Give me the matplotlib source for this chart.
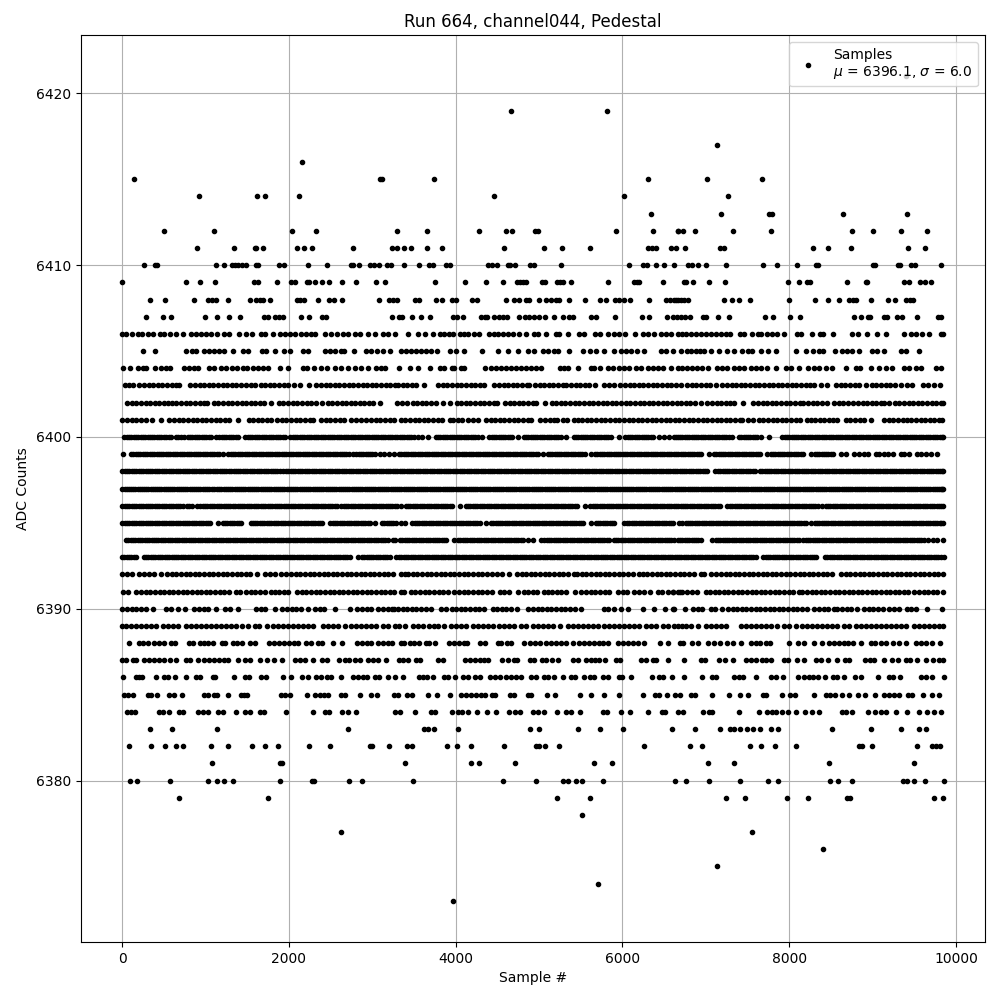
import numpy as np
import matplotlib
matplotlib.use('Agg')
import matplotlib.pyplot as plt

# sample numbers, one list per ADC level
s6421 = [9401]
s6419 = [4667, 5819]
s6417 = [7133]
s6416 = [2152]
s6415 = [148, 3088, 3116, 3743, 6311, 7013, 7673]
s6414 = [928, 1612, 1708, 2116, 4463, 6023, 7265]
s6413 = [6347, 7181, 7757, 7793, 8645, 9413]
s6412 = [508, 1108, 2032, 2320, 3299, 3659, 4283, 4607, 4679, 4955, 4983, 5927, 6371, 6671, 6665, 6725, 6869, 7325,
         7781, 8753, 9005, 9341, 9653]
s6411 = [904, 1336, 1590, 1604, 1684, 2092, 2176, 2272, 2764, 3232, 3292, 3383, 3467, 3659, 3839, 4583, 5063, 5279,
         5615, 6311, 6359, 6407, 6587, 6647, 6749, 7169, 7217, 8285, 8465, 8741, 9425, 9629]
s6410 = [268, 396, 416, 1132, 1228, 1316, 1348, 1388, 1436, 1484, 1604, 1628, 1876, 1936, 2224, 2452, 2740, 2764,
         2836, 2968, 3016, 3076, 3180, 3220, 3383, 3563, 3683, 3731, 3887, 3935, 4383, 4439, 4499, 4631, 4655, 4715,
         4895, 4935, 5267, 6083, 6251, 6299, 6407, 6503, 6623, 6785, 6833, 6905, 7001, 7241, 7685, 7853, 8097, 8321,
         8345, 9005, 9029, 9305, 9329, 9461, 9509, 9817]
s6409 = [4, 772, 940, 1120, 1576, 1624, 1852, 2020, 2068, 2212, 2236, 2308, 2392, 2476, 2632, 2800, 3040, 3148, 3755,
         4115, 4367, 4571, 4739, 4775, 4811, 4847, 5039, 5075, 5219, 5255, 5291, 5387, 5831, 6143, 6175, 6203, 6491,
         6737, 6761, 6845, 7037, 7229, 7985, 8117, 8213, 8249, 8693, 8921, 8937, 9377, 9437, 9569, 9629, 9701]
s6408 = [340, 520, 868, 1036, 1084, 1132, 1276, 1528, 1600, 1648, 1684, 1768, 2092, 2128, 2176, 2344, 2476, 2536,
         2632, 3076, 3196, 3244, 3292, 3515, 3563, 3767, 3839, 3959, 4007, 4199, 4259, 4607, 4703, 4763, 4847, 4883,
         5003, 5087, 5147, 5203, 5243, 5363, 5555, 5735, 5807, 5915, 5963, 6023, 6095, 6323, 6527, 6575, 6623, 6671,
         6637, 6697, 6737, 6785, 7217, 7313, 7397, 7529, 7997, 8309, 8465, 8597, 8717, 8769, 8801, 8981, 9185, 9269,
         9401, 9449, 9485]
s6407 = [292, 496, 592, 1000, 1144, 1288, 1408, 1696, 1744, 1828, 1876, 1924, 2140, 2236, 2392, 2440, 3232, 3316,
         3359, 3479, 3583, 3695, 3971, 4019, 4091, 4307, 4347, 4379, 4463, 4523, 4571, 4619, 4763, 4835, 4883, 4943,
         5003, 5075, 5183, 5291, 5363, 5403, 5627, 5687, 5915, 6239, 6323, 6539, 6611, 6659, 6705, 6745, 6809, 6965,
         7001, 7145, 7277, 7709, 7805, 8009, 8129, 8777, 8861, 8945, 8969, 9137, 9177, 9293, 9353, 9533, 9785, 9825]
s6406 = [4, 52, 124, 188, 236, 308, 368, 452, 508, 580, 648, 728, 828, 888, 948, 1008, 1068, 1140, 1228, 1288, 1396,
         1480, 1556, 1660, 1716, 1804, 1888, 1948, 2008, 2068, 2140, 2208, 2268, 2316, 2428, 2508, 2572, 2648, 2708,
         2788, 2848, 2948, 3028, 3128, 3188, 3276, 3431, 3551, 3631, 3731, 3815, 3863, 3923, 3971, 4055, 4103, 4151,
         4215, 4283, 4403, 4463, 4503, 4563, 4623, 4683, 4763, 4847, 4943, 4983, 5087, 5203, 5243, 5343, 5483, 5543,
         5671, 5735, 5831, 5903, 5963, 6035, 6155, 6243, 6303, 6383, 6463, 6523, 6583, 6663, 6717, 6765, 6825, 6877,
         6937, 6997, 7057, 7117, 7177, 7237, 7289, 7409, 7457, 7557, 7625, 7665, 7737, 7797, 7857, 7937, 8097, 8145,
         8273, 8369, 8409, 8525, 8757, 8825, 8933, 9057, 9161, 9377, 9457, 9517, 9597, 9677, 9817, 9850]
s6405 = [256, 396, 772, 844, 892, 988, 1048, 1108, 1168, 1228, 1324, 1444, 1504, 1676, 1720, 1828, 1936, 2008, 2164,
         2228, 2428, 2488, 2548, 2628, 2656, 2776, 2920, 2988, 3052, 3128, 3208, 3340, 3403, 3463, 3523, 3583, 3643,
         3703, 3775, 3935, 4003, 4095, 4315, 4503, 4631, 4751, 4871, 4943, 5051, 5111, 5183, 5223, 5363, 5531, 5615,
         5683, 5783, 5903, 5983, 6043, 6103, 6171, 6263, 6463, 6523, 6603, 6705, 6777, 6825, 6877, 6929, 6977, 7065,
         7161, 7257, 7337, 7437, 7505, 7557, 7657, 7745, 7837, 8081, 8201, 8289, 8357, 8409, 8549, 8633, 8697, 8757,
         8837, 8997, 9057, 9137, 9345, 9397, 9557]
s6404 = [16, 100, 188, 248, 284, 400, 468, 528, 580, 748, 808, 868, 916, 1048, 1108, 1188, 1248, 1316, 1380, 1448,
         1500, 1568, 1628, 1688, 1748, 1888, 1988, 2168, 2216, 2296, 2380, 2460, 2548, 2620, 2708, 2788, 2868, 2948,
         3048, 3108, 3156, 3316, 3455, 3551, 3695, 3815, 3863, 3951, 3983, 4063, 4103, 4355, 4423, 4483, 4543, 4603,
         4663, 4723, 4783, 4843, 4903, 4963, 5023, 5255, 5303, 5351, 5471, 5623, 5663, 5735, 5823, 5883, 5963, 6023,
         6083, 6163, 6223, 6303, 6363, 6423, 6483, 6583, 6663, 6717, 6777, 6837, 6897, 6957, 7025, 7137, 7197, 7257,
         7337, 7397, 7457, 7537, 7597, 7657, 7737, 7837, 7957, 8017, 8117, 8225, 8297, 8357, 8437, 8517, 8677, 8797,
         8845, 8977, 9077, 9157, 9237, 9377, 9437, 9517, 9577, 9757, 9817]
s6403 = [36, 88, 128, 208, 262, 318, 371, 430, 482, 540, 596, 650, 688, 820, 874, 931, 985, 1042, 1096, 1153, 1207,
         1262, 1318, 1371, 1428, 1483, 1540, 1596, 1660, 1714, 1770, 1826, 1880, 1937, 1992, 2060, 2128, 2236, 2328,
         2383, 2440, 2494, 2551, 2605, 2662, 2716, 2773, 2827, 2884, 2938, 2995, 3049, 3106, 3160, 3217, 3271, 3310,
         3365, 3421, 3476, 3523, 3615, 3791, 3846, 3902, 3957, 4013, 4068, 4124, 4179, 4235, 4290, 4343, 4463, 4518,
         4574, 4629, 4685, 4740, 4796, 4851, 4883, 4951, 5006, 5062, 5117, 5173, 5228, 5284, 5323, 5383, 5438, 5494,
         5549, 5605, 5671, 5783, 5839, 5895, 5975, 6030, 6086, 6141, 6197, 6252, 6308, 6363, 6419, 6474, 6530, 6585,
         6640, 6697, 6777, 6832, 6888, 6943, 6999, 7054, 7117, 7197, 7252, 7308, 7363, 7419, 7474, 7530, 7585, 7641,
         7696, 7752, 7807, 7863, 7918, 7974, 8029, 8085, 8140, 8196, 8251, 8297, 8385, 8457, 8557, 8617, 8672, 8728,
         8783, 8839, 8917, 8989, 9044, 9100, 9155, 9211, 9266, 9337, 9409, 9477, 9605, 9660, 9737, 9809]
s6402 = [60, 115, 171, 226, 282, 337, 393, 448, 504, 548, 596, 651, 707, 762, 818, 873, 929, 984, 1020, 1100, 1155,
         1211, 1266, 1322, 1377, 1433, 1488, 1544, 1599, 1655, 1700, 1780, 1880, 1935, 1991, 2046, 2102, 2157, 2213,
         2268, 2324, 2396, 2468, 2523, 2579, 2634, 2690, 2745, 2788, 2848, 2903, 2959, 3014, 3088, 3300, 3355, 3411,
         3483, 3538, 3594, 3649, 3705, 3760, 3843, 3935, 4011, 4066, 4122, 4177, 4233, 4288, 4344, 4399, 4455, 4495,
         4591, 4646, 4702, 4757, 4813, 4868, 4924, 4963, 5071, 5151, 5206, 5262, 5317, 5373, 5428, 5484, 5539, 5595,
         5650, 5706, 5761, 5817, 5872, 5928, 5983, 6039, 6094, 6150, 6205, 6261, 6316, 6372, 6427, 6483, 6538, 6594,
         6649, 6705, 6760, 6816, 6871, 6945, 7017, 7072, 7128, 7183, 7239, 7294, 7337, 7449, 7569, 7624, 7680, 7735,
         7791, 7846, 7902, 7957, 8013, 8068, 8124, 8169, 8225, 8280, 8336, 8391, 8457, 8537, 8592, 8648, 8705, 8769,
         8824, 8880, 8935, 8991, 9046, 9102, 9137, 9193, 9265, 9320, 9376, 9431, 9487, 9542, 9598, 9653, 9709, 9764,
         9820, 9850]
s6401 = [4, 59, 115, 170, 226, 281, 356, 472, 568, 623, 679, 734, 790, 845, 901, 956, 1012, 1067, 1123, 1178, 1234,
         1288, 1384, 1516, 1571, 1627, 1682, 1738, 1780, 1856, 1916, 1971, 2027, 2082, 2138, 2193, 2249, 2288, 2388,
         2443, 2499, 2554, 2610, 2665, 2748, 2808, 2868, 2928, 2983, 3039, 3094, 3148, 3208, 3263, 3340, 3396, 3451,
         3507, 3562, 3618, 3673, 3729, 3784, 3840, 3935, 3971, 4026, 4082, 4151, 4203, 4271, 4363, 4418, 4474, 4529,
         4585, 4640, 4696, 4751, 4807, 4862, 4903, 5015, 5070, 5126, 5181, 5215, 5283, 5338, 5423, 5463, 5518, 5574,
         5629, 5685, 5740, 5796, 5851, 5907, 5962, 6018, 6073, 6129, 6184, 6240, 6295, 6351, 6406, 6462, 6517, 6573,
         6628, 6684, 6739, 6795, 6850, 6906, 6961, 7017, 7072, 7128, 7183, 7239, 7294, 7350, 7405, 7437, 7505, 7560,
         7637, 7689, 7744, 7800, 7855, 7911, 7966, 8022, 8077, 8133, 8217, 8257, 8312, 8368, 8423, 8479, 8529, 8577,
         8677, 8732, 8788, 8843, 8899, 8977, 9137, 9192, 9248, 9303, 9359, 9409, 9465, 9520, 9576, 9631, 9687, 9742,
         9798, 9837]
s6400 = [28, 83, 139, 194, 250, 305, 361, 416, 472, 527, 588, 648, 703, 748, 788, 843, 899, 954, 1010, 1065, 1128,
         1168, 1223, 1279, 1334, 1390, 1468, 1508, 1563, 1619, 1674, 1730, 1785, 1841, 1896, 1952, 2008, 2048, 2103,
         2159, 2214, 2270, 2325, 2381, 2436, 2492, 2547, 2603, 2658, 2714, 2769, 2825, 2880, 2936, 2991, 3047, 3102,
         3158, 3213, 3269, 3330, 3385, 3441, 3496, 3551, 3591, 3663, 3763, 3818, 3874, 3929, 3985, 4040, 4096, 4151,
         4207, 4262, 4311, 4403, 4458, 4514, 4569, 4625, 4680, 4751, 4815, 4870, 4926, 4981, 5037, 5092, 5148, 5203,
         5259, 5323, 5415, 5470, 5526, 5581, 5637, 5692, 5748, 5803, 5859, 5963, 6035, 6090, 6146, 6201, 6257, 6312,
         6368, 6443, 6503, 6563, 6618, 6663, 6718, 6774, 6829, 6885, 6940, 6996, 7051, 7107, 7162, 7218, 7273, 7317,
         7397, 7452, 7508, 7563, 7619, 7665, 7761, 7917, 7972, 8028, 8083, 8139, 8194, 8250, 8305, 8361, 8416, 8472,
         8527, 8583, 8638, 8694, 8749, 8805, 8860, 8916, 8971, 9027, 9082, 9138, 9193, 9249, 9304, 9360, 9415, 9471,
         9526, 9582, 9637, 9693, 9748, 9804, 9850]
s6399 = [16, 108, 163, 219, 274, 330, 385, 441, 496, 552, 607, 663, 718, 774, 829, 885, 940, 996, 1051, 1107, 1162,
         1208, 1276, 1331, 1387, 1442, 1498, 1553, 1609, 1664, 1720, 1775, 1831, 1886, 1942, 1997, 2053, 2108, 2164,
         2219, 2275, 2330, 2386, 2441, 2497, 2552, 2608, 2663, 2719, 2768, 2808, 2863, 2919, 2974, 3030, 3088, 3140,
         3195, 3255, 3323, 3378, 3434, 3489, 3545, 3600, 3656, 3711, 3767, 3822, 3878, 3933, 3989, 4044, 4100, 4155,
         4211, 4266, 4322, 4377, 4433, 4488, 4544, 4599, 4655, 4710, 4766, 4821, 4877, 4932, 4988, 5043, 5103, 5158,
         5214, 5269, 5325, 5380, 5436, 5491, 5547, 5623, 5671, 5726, 5782, 5837, 5893, 5948, 6004, 6059, 6115, 6170,
         6226, 6281, 6337, 6392, 6448, 6503, 6559, 6614, 6670, 6725, 6781, 6836, 6892, 6947, 7037, 7097, 7152, 7208,
         7263, 7319, 7374, 7430, 7485, 7541, 7596, 7652, 7737, 7777, 7832, 7888, 7943, 7999, 8054, 8110, 8165, 8257,
         8305, 8360, 8416, 8471, 8527, 8617, 8681, 8777, 8837, 8892, 8948, 9037, 9077, 9132, 9188, 9243, 9337, 9377,
         9432, 9529, 9585, 9640, 9696, 9777]
s6398 = [4, 59, 115, 170, 226, 281, 337, 392, 448, 503, 559, 614, 670, 725, 781, 836, 892, 947, 1003, 1058, 1114,
         1169, 1225, 1280, 1336, 1391, 1447, 1502, 1558, 1613, 1669, 1724, 1780, 1835, 1891, 1928, 1968, 2023, 2079,
         2134, 2190, 2245, 2301, 2356, 2412, 2467, 2523, 2578, 2634, 2689, 2745, 2800, 2856, 2911, 2967, 3022, 3078,
         3133, 3189, 3244, 3300, 3355, 3411, 3466, 3522, 3577, 3633, 3688, 3744, 3799, 3855, 3910, 3966, 4021, 4077,
         4132, 4188, 4243, 4299, 4354, 4410, 4465, 4521, 4576, 4632, 4687, 4743, 4798, 4854, 4909, 4965, 5020, 5076,
         5131, 5187, 5242, 5298, 5353, 5409, 5464, 5520, 5575, 5631, 5686, 5742, 5797, 5853, 5908, 5964, 6019, 6075,
         6130, 6186, 6241, 6297, 6352, 6408, 6463, 6519, 6574, 6630, 6685, 6741, 6796, 6852, 6907, 6963, 7018, 7105,
         7145, 7200, 7256, 7311, 7367, 7422, 7478, 7533, 7585, 7649, 7704, 7760, 7815, 7871, 7926, 7982, 8037, 8093,
         8148, 8204, 8259, 8315, 8370, 8426, 8481, 8537, 8592, 8648, 8703, 8759, 8814, 8870, 8925, 8981, 9036, 9092,
         9147, 9203, 9258, 9314, 9369, 9425, 9480, 9536, 9591, 9647, 9702, 9758, 9813, 9850]
s6397 = [4, 56, 108, 160, 212, 264, 316, 368, 420, 472, 524, 576, 628, 680, 732, 784, 836, 888, 940, 992, 1044, 1108,
         1140, 1192, 1244, 1296, 1348, 1400, 1452, 1504, 1556, 1608, 1660, 1712, 1764, 1816, 1868, 1920, 1972, 2024,
         2076, 2128, 2180, 2232, 2284, 2336, 2388, 2440, 2492, 2544, 2596, 2648, 2700, 2752, 2804, 2856, 2908, 2960,
         3012, 3064, 3116, 3168, 3220, 3272, 3324, 3376, 3428, 3480, 3532, 3584, 3636, 3688, 3740, 3792, 3844, 3896,
         3948, 4000, 4052, 4104, 4156, 4208, 4260, 4312, 4364, 4416, 4468, 4520, 4572, 4624, 4676, 4728, 4780, 4832,
         4884, 4936, 4988, 5040, 5092, 5144, 5196, 5248, 5300, 5352, 5404, 5456, 5508, 5560, 5612, 5664, 5716, 5768,
         5820, 5872, 5924, 5976, 6028, 6080, 6132, 6184, 6236, 6288, 6340, 6392, 6444, 6496, 6548, 6600, 6652, 6704,
         6756, 6808, 6860, 6912, 6964, 7016, 7068, 7120, 7172, 7224, 7276, 7328, 7380, 7432, 7484, 7536, 7588, 7640,
         7692, 7744, 7796, 7848, 7900, 7952, 8004, 8056, 8108, 8160, 8212, 8264, 8316, 8368, 8420, 8472, 8524, 8576,
         8628, 8680, 8732, 8784, 8836, 8888, 8940, 8992, 9044, 9096, 9148, 9200, 9252, 9304, 9356, 9408, 9460, 9512,
         9564, 9616, 9668, 9720, 9772, 9824, 9850]
s6396 = [4, 59, 115, 170, 226, 281, 337, 392, 448, 503, 559, 614, 670, 728, 780, 835, 900, 940, 995, 1051, 1106,
         1162, 1217, 1273, 1328, 1384, 1439, 1495, 1550, 1606, 1661, 1717, 1772, 1828, 1883, 1939, 1994, 2050, 2105,
         2161, 2216, 2272, 2327, 2383, 2438, 2494, 2549, 2620, 2660, 2715, 2771, 2826, 2882, 2937, 2993, 3048, 3104,
         3159, 3215, 3270, 3343, 3403, 3458, 3514, 3569, 3625, 3680, 3736, 3791, 3847, 3902, 3958, 4055, 4123, 4178,
         4234, 4289, 4345, 4400, 4456, 4511, 4567, 4622, 4678, 4733, 4789, 4844, 4900, 4955, 5011, 5066, 5122, 5177,
         5233, 5288, 5344, 5399, 5455, 5551, 5615, 5670, 5726, 5781, 5837, 5892, 5948, 6003, 6059, 6114, 6170, 6225,
         6281, 6336, 6392, 6447, 6503, 6558, 6614, 6669, 6725, 6780, 6836, 6891, 6947, 7002, 7058, 7113, 7169, 7257,
         7289, 7344, 7400, 7455, 7511, 7566, 7622, 7677, 7733, 7788, 7844, 7899, 7955, 8010, 8066, 8121, 8177, 8232,
         8288, 8343, 8397, 8437, 8492, 8548, 8603, 8659, 8714, 8770, 8825, 8881, 8936, 8992, 9047, 9103, 9158, 9214,
         9269, 9325, 9380, 9436, 9491, 9547, 9602, 9658, 9713, 9769, 9824, 9850]
s6395 = [4, 59, 115, 170, 226, 281, 337, 392, 448, 503, 559, 614, 670, 725, 781, 836, 892, 947, 1003, 1058, 1148,
         1208, 1263, 1319, 1374, 1430, 1540, 1568, 1623, 1679, 1734, 1790, 1845, 1901, 1956, 2012, 2067, 2123, 2178,
         2234, 2289, 2345, 2400, 2488, 2528, 2583, 2639, 2694, 2750, 2805, 2861, 2916, 2972, 3036, 3116, 3171, 3227,
         3282, 3340, 3395, 3471, 3511, 3566, 3622, 3677, 3733, 3788, 3844, 3899, 3955, 4010, 4066, 4121, 4177, 4232,
         4288, 4363, 4423, 4478, 4534, 4589, 4645, 4700, 4756, 4811, 4867, 4922, 4978, 5033, 5089, 5144, 5200, 5255,
         5311, 5366, 5422, 5477, 5533, 5623, 5679, 5734, 5790, 5845, 5901, 6015, 6055, 6110, 6166, 6221, 6277, 6332,
         6388, 6443, 6499, 6554, 6610, 6677, 6717, 6757, 6812, 6868, 6923, 6979, 7034, 7090, 7145, 7201, 7256, 7312,
         7367, 7423, 7478, 7534, 7589, 7645, 7700, 7756, 7811, 7867, 7922, 7978, 8033, 8089, 8144, 8200, 8265, 8305,
         8360, 8416, 8471, 8527, 8582, 8638, 8693, 8749, 8804, 8860, 8915, 8971, 9026, 9082, 9137, 9193, 9248, 9304,
         9359, 9415, 9470, 9526, 9581, 9637, 9692, 9748, 9803, 9850]
s6394 = [48, 103, 159, 214, 270, 325, 381, 436, 492, 547, 603, 658, 714, 769, 825, 880, 936, 991, 1047, 1102, 1158,
         1213, 1269, 1324, 1380, 1408, 1463, 1519, 1574, 1630, 1685, 1741, 1796, 1852, 1907, 1963, 2018, 2074, 2129,
         2185, 2240, 2296, 2351, 2407, 2462, 2518, 2573, 2629, 2684, 2740, 2795, 2851, 2906, 2962, 3017, 3073, 3128,
         3184, 3268, 3328, 3243, 3390, 3445, 3501, 3556, 3612, 3667, 3723, 3778, 3834, 3889, 3983, 4031, 4086, 4142,
         4197, 4253, 4308, 4364, 4419, 4475, 4530, 4586, 4641, 4697, 4752, 4808, 4871, 4923, 5023, 5063, 5118, 5174,
         5229, 5285, 5340, 5396, 5451, 5507, 5562, 5618, 5673, 5729, 5784, 5843, 5895, 5950, 6006, 6061, 6117, 6172,
         6228, 6283, 6339, 6394, 6450, 6505, 6561, 6616, 6663, 6718, 6774, 6829, 6885, 6940, 7077, 7117, 7172, 7228,
         7283, 7339, 7394, 7450, 7505, 7561, 7616, 7672, 7727, 7783, 7838, 7894, 7949, 8005, 8060, 8117, 8169, 8224,
         8280, 8335, 8391, 8446, 8502, 8557, 8613, 8668, 8724, 8779, 8835, 8890, 8946, 9001, 9057, 9112, 9168, 9223,
         9279, 9334, 9390, 9445, 9501, 9556, 9617, 9665, 9720, 9777, 9849]
s6393 = [0, 55, 111, 166, 260, 288, 343, 399, 454, 510, 565, 621, 676, 732, 787, 843, 898, 954, 1009, 1065, 1120,
         1176, 1231, 1287, 1342, 1398, 1453, 1509, 1564, 1620, 1675, 1731, 1786, 1842, 1897, 1953, 2008, 2064, 2119,
         2175, 2230, 2286, 2341, 2397, 2452, 2508, 2563, 2619, 2674, 2730, 2828, 2876, 2931, 2987, 3042, 3098, 3153,
         3209, 3283, 3323, 3378, 3434, 3489, 3545, 3600, 3656, 3711, 3767, 3822, 3878, 3933, 3989, 4044, 4100, 4155,
         4211, 4266, 4322, 4377, 4433, 4488, 4544, 4599, 4655, 4710, 4766, 4821, 4877, 4932, 4988, 5043, 5099, 5154,
         5210, 5265, 5321, 5376, 5432, 5487, 5543, 5598, 5654, 5709, 5765, 5820, 5876, 5931, 5987, 6042, 6098, 6153,
         6209, 6264, 6320, 6375, 6431, 6486, 6542, 6597, 6653, 6708, 6764, 6819, 6875, 6930, 6986, 7041, 7097, 7152,
         7208, 7263, 7319, 7374, 7430, 7485, 7541, 7596, 7689, 7717, 7772, 7828, 7883, 7939, 7994, 8050, 8105, 8161,
         8216, 8272, 8327, 8429, 8457, 8512, 8568, 8623, 8679, 8734, 8790, 8845, 8901, 8956, 9012, 9067, 9123, 9178,
         9234, 9289, 9345, 9400, 9456, 9511, 9567, 9622, 9678, 9733, 9789, 9855]
s6392 = [4, 59, 115, 208, 268, 323, 379, 468, 540, 595, 651, 706, 762, 817, 873, 928, 984, 1039, 1095, 1150, 1206,
         1261, 1317, 1372, 1428, 1483, 1539, 1620, 1716, 1771, 1836, 1908, 1968, 2028, 2083, 2139, 2194, 2250, 2305,
         2361, 2416, 2472, 2527, 2583, 2638, 2700, 2748, 2803, 2859, 2914, 2970, 3025, 3081, 3136, 3192, 3247, 3340,
         3391, 3431, 3486, 3542, 3597, 3653, 3708, 3764, 3819, 3875, 3930, 3986, 4041, 4097, 4152, 4208, 4263, 4319,
         4374, 4430, 4495, 4551, 4643, 4735, 4790, 4846, 4901, 4957, 5012, 5068, 5123, 5179, 5234, 5290, 5345, 5423,
         5455, 5510, 5566, 5621, 5677, 5732, 5788, 5843, 5899, 5954, 6010, 6065, 6121, 6203, 6243, 6298, 6354, 6409,
         6465, 6520, 6576, 6631, 6687, 6742, 6798, 6853, 6937, 6977, 7057, 7117, 7177, 7237, 7292, 7348, 7403, 7459,
         7514, 7570, 7625, 7681, 7736, 7792, 7847, 7903, 7958, 8014, 8069, 8125, 8180, 8236, 8291, 8347, 8402, 8458,
         8513, 8617, 8677, 8732, 8788, 8843, 8899, 8954, 9010, 9065, 9121, 9176, 9232, 9287, 9343, 9398, 9454, 9509,
         9565, 9620, 9676, 9731, 9787, 9842]
s6391 = [12, 67, 168, 228, 283, 339, 394, 450, 505, 561, 616, 672, 727, 783, 838, 894, 949, 1005, 1060, 1116, 1171,
         1227, 1282, 1368, 1408, 1488, 1543, 1599, 1654, 1710, 1780, 1828, 1883, 1939, 1994, 2100, 2156, 2211, 2267,
         2322, 2378, 2433, 2489, 2544, 2600, 2655, 2711, 2766, 2822, 2877, 2933, 2988, 3044, 3099, 3155, 3210, 3266,
         3340, 3383, 3463, 3518, 3574, 3629, 3685, 3740, 3796, 3851, 3907, 3975, 4043, 4098, 4154, 4209, 4265, 4320,
         4376, 4431, 4535, 4583, 4638, 4743, 4815, 4870, 4926, 4981, 5055, 5103, 5158, 5214, 5269, 5325, 5431, 5503,
         5563, 5618, 5674, 5729, 5785, 5840, 5943, 6003, 6058, 6143, 6203, 6258, 6335, 6423, 6478, 6543, 6603, 6695,
         6609, 6664, 6717, 6777, 6837, 6892, 6997, 7049, 7104, 7160, 7215, 7271, 7326, 7382, 7437, 7493, 7548, 7604,
         7659, 7715, 7770, 7826, 7881, 7937, 7992, 8048, 8117, 8157, 8212, 8268, 8323, 8379, 8434, 8490, 8545, 8601,
         8656, 8712, 8767, 8823, 8878, 8934, 8989, 9045, 9100, 9156, 9211, 9267, 9322, 9377, 9425, 9497, 9557, 9612,
         9668, 9723, 9777, 9849]
s6390 = [4, 59, 115, 170, 226, 281, 368, 528, 583, 668, 756, 868, 923, 979, 1034, 1128, 1236, 1291, 1388, 1608, 1663,
         1719, 1828, 1916, 1980, 2035, 2091, 2146, 2228, 2316, 2371, 2427, 2548, 2728, 2820, 2875, 2931, 2986, 3068,
         3128, 3183, 3239, 3308, 3263, 3363, 3418, 3474, 3529, 3585, 3640, 3703, 3823, 3883, 3951, 4006, 4062, 4117,
         4173, 4228, 4283, 4343, 4443, 4498, 4554, 4609, 4665, 4735, 4871, 4926, 4982, 5037, 5093, 5148, 5204, 5259,
         5315, 5370, 5426, 5503, 5775, 5830, 5895, 5983, 6063, 6243, 6375, 6511, 6615, 6609, 6749, 6849, 6904, 6957,
         7057, 7112, 7197, 7265, 7320, 7376, 7431, 7487, 7542, 7598, 7653, 7709, 7764, 7820, 7875, 7931, 7986, 8042,
         8097, 8153, 8208, 8297, 8357, 8412, 8468, 8537, 8577, 8632, 8688, 8743, 8809, 8897, 8952, 9008, 9063, 9129,
         9197, 9252, 9317, 9409, 9464, 9517, 9649, 9837]
s6389 = [4, 52, 108, 168, 228, 288, 348, 408, 488, 548, 608, 668, 768, 828, 888, 948, 1008, 1068, 1128, 1188, 1248,
         1308, 1368, 1436, 1508, 1588, 1636, 1732, 1808, 1868, 1928, 1988, 2048, 2108, 2168, 2228, 2288, 2408, 2468,
         2528, 2588, 2676, 2748, 2808, 2868, 2928, 2988, 3048, 3128, 3188, 3268, 3316, 3391, 3483, 3543, 3603, 3683,
         3743, 3783, 3855, 3943, 4003, 4063, 4123, 4203, 4263, 4323, 4383, 4443, 4523, 4583, 4643, 4695, 4783, 4843,
         4923, 4983, 5043, 5103, 5163, 5255, 5343, 5403, 5463, 5523, 5583, 5643, 5703, 5783, 5843, 5903, 5963, 6023,
         6083, 6143, 6203, 6283, 6343, 6403, 6483, 6543, 6623, 6671, 6717, 6757, 6825, 6905, 6997, 7057, 7117, 7177,
         7237, 7417, 7477, 7537, 7597, 7657, 7717, 7777, 7857, 7937, 7997, 8077, 8157, 8217, 8277, 8337, 8397, 8457,
         8517, 8577, 8657, 8717, 8797, 8857, 8917, 8977, 9037, 9097, 9157, 9217, 9277, 9337, 9397, 9497, 9557, 9617,
         9677, 9737, 9797, 9850]
s6388 = [88, 208, 256, 308, 388, 448, 508, 588, 636, 808, 848, 940, 988, 1036, 1088, 1196, 1236, 1324, 1380, 1436,
         1528, 1588, 1756, 1820, 1876, 1940, 1996, 2060, 2108, 2200, 2268, 2348, 2396, 2524, 2640, 2820, 2876, 2932,
         2988, 3068, 3128, 3188, 3240, 3340, 3375, 3455, 3503, 3563, 3643, 3683, 3755, 3923, 3983, 4043, 4095, 4135,
         4295, 4355, 4503, 4543, 4615, 4663, 4823, 4895, 4951, 5011, 5083, 5143, 5203, 5263, 5323, 5403, 5483, 5543,
         5603, 5663, 5723, 5763, 5831, 5943, 6003, 6063, 6123, 6183, 6255, 6455, 6551, 6689, 6725, 6837, 6905, 7029,
         7097, 7169, 7257, 7325, 7417, 7537, 7597, 7649, 7717, 7765, 7993, 8105, 8177, 8297, 8397, 8477, 8537, 8597,
         8657, 8705, 8769, 8857, 8977, 9025, 9097, 9157, 9249, 9317, 9397, 9517, 9577, 9637, 9717, 9809]
s6387 = [4, 52, 128, 172, 268, 328, 388, 448, 508, 580, 648, 768, 820, 916, 988, 1048, 1108, 1168, 1228, 1276, 1384,
         1468, 1528, 1648, 1740, 1820, 1916, 2068, 2128, 2188, 2288, 2396, 2460, 2596, 2668, 2716, 2788, 2848, 2948,
         3008, 3068, 3160, 3316, 3371, 3423, 3523, 3575, 3783, 3843, 4115, 4175, 4231, 4295, 4343, 4391, 4559, 4623,
         4703, 4735, 4895, 4943, 5039, 5087, 5159, 5231, 5411, 5471, 5567, 5623, 5671, 5723, 5795, 5923, 5975, 6227,
         6283, 6363, 6407, 6551, 6737, 6945, 6989, 7157, 7229, 7325, 7481, 7537, 7597, 7677, 7717, 7785, 7937, 7985,
         8093, 8177, 8321, 8377, 8465, 8573, 8669, 8717, 8909, 8969, 9017, 9137, 9233, 9305, 9401, 9449, 9529, 9637,
         9725, 9797, 9850]
s6386 = [16, 172, 208, 244, 408, 508, 548, 640, 772, 888, 940, 1088, 1116, 1336, 1468, 1516, 1668, 1728, 1924, 2028,
         2152, 2224, 2320, 2388, 2456, 2508, 2620, 2764, 2828, 2888, 2940, 3028, 3076, 3184, 3272, 3363, 3563, 3611,
         3659, 3731, 3863, 3911, 3995, 4091, 4151, 4235, 4295, 4415, 4471, 4535, 4603, 4663, 4727, 4787, 4907, 4967,
         5063, 5111, 5183, 5291, 5383, 5431, 5535, 5615, 5663, 5763, 5831, 5963, 5999, 6107, 6359, 6443, 6487, 6589,
         6737, 6953, 7073, 7121, 7337, 7397, 7445, 7601, 7781, 7841, 7925, 8105, 8177, 8237, 8285, 8345, 8429, 8525,
         8577, 8657, 8789, 8861, 9061, 9197, 9245, 9329, 9585, 9641, 9713, 9855]
s6385 = [24, 76, 132, 316, 348, 424, 568, 628, 724, 988, 1036, 1108, 1140, 1276, 1420, 1460, 1500, 1900, 1948, 2008,
         2212, 2316, 2368, 2420, 2468, 2628, 2676, 2848, 2988, 3056, 3256, 3308, 3415, 3471, 3671, 3779, 3935, 4067,
         4127, 4187, 4247, 4307, 4355, 4431, 4471, 4655, 4695, 4871, 4903, 5099, 5195, 5495, 5627, 5783, 5963, 6251,
         6395, 6443, 6539, 6631, 6695, 6821, 6873, 7073, 7277, 7409, 7505, 7689, 7721, 7913, 8009, 8069, 8297, 8441,
         8489, 8549, 8633, 8717, 8825, 8909, 9029, 9137, 9197, 9257, 9317, 9425, 9477, 9605, 9713, 9797]
s6384 = [60, 108, 156, 448, 492, 568, 688, 736, 916, 976, 1028, 1156, 1208, 1360, 1468, 1528, 1648, 1700, 1960, 2284,
         2428, 2476, 2632, 2712, 2808, 3276, 3328, 3515, 3703, 3755, 3959, 4023, 4079, 4151, 4259, 4379, 4487, 4643,
         4715, 4775, 4931, 4991, 5063, 5219, 5327, 5387, 5495, 5771, 5819, 5987, 6095, 6311, 6479, 6515, 6665, 6725,
         6965, 7037, 7073, 7397, 7637, 7733, 7797, 7837, 7909, 7985, 8077, 8189, 8273, 8357, 8633, 8681, 8753, 8945,
         9029, 9097, 9161, 9281, 9413, 9557, 9657, 9737, 9817]
s6383 = [340, 604, 1144, 2704, 3623, 3663, 3735, 4031, 4895, 5003, 5471, 5735, 6011, 6589, 6869, 7169, 7289, 7337,
         7409, 7493, 7565, 7649, 7781, 7865, 8513, 8981, 9341, 9557, 9641]
s6382 = [88, 352, 520, 652, 736, 1072, 1276, 1552, 1708, 1864, 2236, 2488, 2968, 2992, 3204, 3415, 3479, 3899, 4019,
         4187, 4583, 4967, 5003, 5075, 5243, 6263, 6809, 6953, 7529, 7661, 7829, 8081, 8837, 8873, 8993, 9533, 9713,
         9761, 9809]
s6381 = [1084, 1888, 1912, 3395, 4187, 4283, 4715, 5663, 5879, 7025, 7337, 8477, 9497]
s6380 = [100, 184, 580, 1036, 1144, 1228, 1324, 1888, 2272, 2296, 2716, 2872, 3491, 4571, 4967, 5291, 5351, 5447,
         5519, 5771, 6635, 6761, 7037, 7409, 7745, 7865, 8489, 8585, 8753, 9365, 9413, 9497, 9629, 9855]
s6379 = [688, 1744, 5219, 5615, 7241, 7469, 7973, 8225, 8693, 8729, 9737, 9845]
s6378 = [5519]
s6377 = [2620, 7553]
s6376 = [8405]
s6375 = [7133]
s6374 = [5711]
s6373 = [3971]

# further samples in the solid stretches of the busiest levels
e6400 = [55, 111, 166, 222, 277, 333, 388, 444, 499, 558, 675, 815, 871, 926, 982, 1037, 1195, 1251, 1306, 1362, 1536,
         1591, 1646, 1702, 1757, 1813, 1868, 1924, 2075, 2131, 2186, 2242, 2297, 2353, 2408, 2464, 2519, 2575, 2630,
         2686, 2741, 2797, 2852, 2908, 2963, 3019, 3074, 3130, 3185, 3241, 3300, 3357, 3413, 3468, 3790, 3846, 3901,
         3957, 4012, 4068, 4123, 4179, 4234, 4430, 4486, 4541, 4597, 4652, 4842, 4898, 4953, 5009, 5064, 5120, 5175,
         5231, 5442, 5498, 5553, 5609, 5664, 5720, 5775, 5831, 6062, 6118, 6173, 6229, 6284, 6340, 6640, 6690, 6746,
         6801, 6857, 6912, 6968, 7023, 7079, 7134, 7190, 7245, 7424, 7480, 7535, 7591, 7944, 8000, 8055, 8111, 8166,
         8222, 8277, 8333, 8388, 8444, 8499, 8555, 8610, 8666, 8721, 8777, 8832, 8888, 8943, 8999, 9054, 9110, 9165,
         9221, 9276, 9332, 9387, 9443, 9498, 9554, 9609, 9665, 9720, 9776, 9827]
e6399 = [135, 191, 246, 302, 358, 413, 469, 524, 580, 635, 691, 746, 802, 857, 913, 968, 1024, 1079, 1135, 1303, 1359,
         1415, 1470, 1526, 1581, 1637, 1692, 1748, 1803, 1859, 1914, 1970, 2025, 2081, 2136, 2192, 2247, 2303, 2358,
         2414, 2469, 2525, 2580, 2636, 2691, 2836, 2891, 2947, 3002, 3350, 3406, 3461, 3517, 3572, 3628, 3683, 3739,
         3794, 3850, 3905, 3961, 4016, 4072, 4127, 4183, 4238, 4294, 4349, 4405, 4460, 4516, 4571, 4627, 4682, 4738,
         4793, 4849, 4904, 4960, 5130, 5186, 5241, 5297, 5352, 5408, 5463, 5519, 5698, 5754, 5809, 5865, 5920, 5976,
         6031, 6087, 6142, 6198, 6253, 6309, 6364, 6420, 6475, 6531, 6586, 6642, 6697, 6753, 6808, 6864, 6919, 7124,
         7180, 7235, 7291, 7346, 7402, 7457, 7513, 7568, 7624, 7804, 7860, 7915, 7971, 8026, 8082, 8137, 8332, 8388,
         8443, 8499]
e6398 = [31, 87, 142, 198, 253, 309, 364, 420, 475, 531, 586, 642, 697, 753, 808, 864, 919, 975, 1030, 1086, 1141,
         1197, 1252, 1308, 1363, 1419, 1474, 1530, 1585, 1641, 1696, 1752, 1807, 1863, 1995, 2051, 2106, 2162, 2217,
         2273, 2328, 2384, 2439, 2495, 2550, 2606, 2661, 2717, 2772, 2828, 2883, 2939, 2994, 3050, 3105, 3161, 3216,
         3272, 3327, 3383, 3438, 3494, 3549, 3605, 3660, 3716, 3771, 3827, 3882, 3938, 3993, 4049, 4104, 4160, 4215,
         4271, 4326, 4382, 4437, 4493, 4548, 4604, 4659, 4715, 4770, 4826, 4881, 4937, 4992, 5048, 5103, 5159, 5214,
         5270, 5325, 5381, 5436, 5492, 5547, 5603, 5658, 5714, 5769, 5825, 5880, 5936, 5991, 6047, 6102, 6158, 6213,
         6269, 6324, 6380, 6435, 6491, 6546, 6602, 6657, 6713, 6768, 6824, 6879, 6935, 6990, 7172, 7228, 7283, 7339,
         7394, 7450, 7505, 7560, 7676, 7732, 7787, 7843, 7898, 7954, 8009, 8065, 8120, 8176, 8231, 8287, 8342, 8398,
         8453, 8509, 8564, 8620, 8675, 8731, 8786, 8842, 8897, 8953, 9008, 9064, 9119, 9175, 9230, 9286, 9341, 9397,
         9452, 9508, 9563, 9619, 9674, 9730, 9785, 9830]
e6397 = [30, 82, 134, 186, 238, 290, 342, 394, 446, 498, 550, 602, 654, 706, 758, 810, 862, 914, 966, 1018, 1076,
         1166, 1218, 1270, 1322, 1374, 1426, 1478, 1530, 1582, 1634, 1686, 1738, 1790, 1842, 1894, 1946, 1998, 2050,
         2102, 2154, 2206, 2258, 2310, 2362, 2414, 2466, 2518, 2570, 2622, 2674, 2726, 2778, 2830, 2882, 2934, 2986,
         3038, 3090, 3142, 3194, 3246, 3298, 3350, 3402, 3454, 3506, 3558, 3610, 3662, 3714, 3766, 3818, 3870, 3922,
         3974, 4026, 4078, 4130, 4182, 4234, 4286, 4338, 4390, 4442, 4494, 4546, 4598, 4650, 4702, 4754, 4806, 4858,
         4910, 4962, 5014, 5066, 5118, 5170, 5222, 5274, 5326, 5378, 5430, 5482, 5534, 5586, 5638, 5690, 5742, 5794,
         5846, 5898, 5950, 6002, 6054, 6106, 6158, 6210, 6262, 6314, 6366, 6418, 6470, 6522, 6574, 6626, 6678, 6730,
         6782, 6834, 6886, 6938, 6990, 7042, 7094, 7146, 7198, 7250, 7302, 7354, 7406, 7458, 7510, 7562, 7614, 7666,
         7718, 7770, 7822, 7874, 7926, 7978, 8030, 8082, 8134, 8186, 8238, 8290, 8342, 8394, 8446, 8498, 8550, 8602,
         8654, 8706, 8758, 8810, 8862, 8914, 8966, 9018, 9070, 9122, 9174, 9226, 9278, 9330, 9382, 9434, 9486, 9538,
         9590, 9642, 9694, 9746, 9798, 9838]
e6396 = [31, 87, 142, 198, 253, 309, 364, 420, 475, 531, 586, 642, 700, 808, 967, 1023, 1078, 1134, 1189, 1245, 1300,
         1356, 1411, 1467, 1522, 1578, 1633, 1689, 1744, 1800, 1855, 1911, 1966, 2022, 2077, 2133, 2188, 2244, 2299,
         2355, 2410, 2466, 2521, 2577, 2687, 2743, 2798, 2854, 2909, 2965, 3020, 3076, 3131, 3187, 3242, 3298, 3431,
         3486, 3542, 3597, 3653, 3708, 3763, 3819, 3874, 3930, 4150, 4206, 4261, 4317, 4372, 4428, 4483, 4539, 4594,
         4650, 4705, 4761, 4816, 4872, 4927, 4983, 5038, 5094, 5149, 5205, 5260, 5316, 5371, 5427, 5642, 5698, 5753,
         5809, 5864, 5920, 5975, 6031, 6086, 6142, 6197, 6253, 6308, 6364, 6419, 6475, 6530, 6586, 6641, 6697, 6752,
         6808, 6863, 6919, 6974, 7030, 7085, 7141, 7316, 7372, 7427, 7483, 7538, 7594, 7649, 7705, 7760, 7816, 7871,
         7927, 7982, 8038, 8093, 8149, 8204, 8260, 8315, 8464, 8520, 8575, 8631, 8686, 8742, 8797, 8853, 8908, 8964,
         9019, 9075, 9130, 9186, 9241, 9297, 9352, 9408, 9463, 9519, 9574, 9630, 9685, 9741, 9796]
e6395 = [31, 87, 142, 198, 253, 309, 364, 420, 475, 531, 586, 642, 697, 753, 808, 864, 919, 975, 1030, 1235, 1291,
         1346, 1402, 1595, 1651, 1706, 1762, 1817, 1873, 1928, 1984, 2039, 2095, 2150, 2206, 2261, 2317, 2372, 2555,
         2611, 2666, 2722, 2777, 2833, 2888, 2944, 3143, 3199, 3254, 3538, 3594, 3649, 3705, 3760, 3816, 3871, 3927,
         3982, 4038, 4093, 4149, 4204, 4260, 4450, 4506, 4561, 4617, 4672, 4728, 4783, 4839, 4894, 4950, 5005, 5061,
         5116, 5172, 5227, 5283, 5338, 5394, 5449, 5505, 5706, 5762, 5817, 5873, 6082, 6138, 6193, 6249, 6304, 6360,
         6415, 6471, 6526, 6582, 6784, 6840, 6895, 6951, 7006, 7062, 7117, 7173, 7228, 7284, 7339, 7395, 7450, 7506,
         7561, 7617, 7672, 7728, 7783, 7839, 7894, 7950, 8005, 8061, 8116, 8172, 8332, 8388, 8443, 8499, 8554, 8610,
         8665, 8721, 8776, 8832, 8887, 8943, 8998, 9054, 9109, 9165, 9220, 9276, 9331, 9387, 9442, 9498, 9553, 9609,
         9664, 9720, 9775, 9826]
e6394 = [75, 131, 186, 242, 297, 353, 409, 464, 520, 575, 631, 686, 742, 797, 853, 908, 964, 1019, 1075, 1130, 1186,
         1241, 1297, 1352, 1436, 1491, 1547, 1602, 1658, 1713, 1769, 1824, 1880, 1935, 1991, 2046, 2102, 2157, 2213,
         2268, 2324, 2379, 2435, 2490, 2546, 2601, 2657, 2712, 2768, 2823, 2879, 2934, 2990, 3045, 3101, 3156, 3362,
         3418, 3473, 3529, 3584, 3640, 3695, 3751, 3806, 3862, 4058, 4114, 4169, 4225, 4280, 4336, 4391, 4447, 4502,
         4558, 4613, 4669, 4724, 4780, 5090, 5146, 5201, 5257, 5312, 5368, 5423, 5479, 5534, 5590, 5645, 5701, 5756,
         5812, 5922, 5978, 6033, 6089, 6144, 6200, 6255, 6311, 6366, 6422, 6477, 6533, 6588, 6690, 6746, 6801, 6857,
         6912, 7144, 7200, 7255, 7311, 7366, 7422, 7477, 7533, 7588, 7644, 7699, 7755, 7810, 7866, 7921, 7977, 8032,
         8088, 8196, 8252, 8307, 8363, 8418, 8474, 8529, 8585, 8640, 8696, 8751, 8807, 8862, 8918, 8973, 9029, 9084,
         9140, 9195, 9251, 9306, 9362, 9417, 9473, 9528, 9584]
e6393 = [27, 83, 138, 316, 371, 427, 482, 538, 593, 649, 704, 760, 815, 871, 926, 982, 1037, 1093, 1148, 1204, 1259,
         1315, 1370, 1426, 1481, 1537, 1592, 1648, 1703, 1759, 1814, 1870, 1925, 1981, 2036, 2092, 2147, 2203, 2258,
         2314, 2369, 2425, 2480, 2536, 2591, 2647, 2702, 2903, 2959, 3014, 3070, 3125, 3181, 3350, 3406, 3461, 3517,
         3572, 3628, 3683, 3739, 3794, 3850, 3905, 3961, 4016, 4072, 4127, 4183, 4238, 4294, 4349, 4405, 4460, 4516,
         4571, 4627, 4682, 4738, 4793, 4849, 4904, 4960, 5015, 5071, 5126, 5182, 5237, 5293, 5348, 5404, 5459, 5515,
         5570, 5626, 5681, 5737, 5792, 5848, 5903, 5959, 6014, 6070, 6125, 6181, 6236, 6292, 6347, 6403, 6458, 6514,
         6569, 6625, 6680, 6736, 6791, 6847, 6902, 6958, 7013, 7069, 7124, 7180, 7235, 7291, 7346, 7402, 7457, 7513,
         7568, 7744, 7800, 7855, 7911, 7966, 8022, 8077, 8133, 8188, 8244, 8299, 8484, 8540, 8595, 8651, 8706, 8762,
         8817, 8873, 8928, 8984, 9039, 9095, 9150, 9206, 9261, 9317, 9372, 9428, 9483, 9539, 9594, 9650, 9705, 9761,
         9816]

levels = [6421, 6419, 6417, 6416, 6415, 6414, 6413, 6412, 6411, 6410, 6409, 6408, 6407, 6406, 6405, 6404, 6403, 6402,
          6401, 6400, 6399, 6398, 6397, 6396, 6395, 6394, 6393, 6392, 6391, 6390, 6389, 6388, 6387, 6386, 6385, 6384,
          6383, 6382, 6381, 6380, 6379, 6378, 6377, 6376, 6375, 6374, 6373,
          6400, 6399, 6398, 6397, 6396, 6395, 6394, 6393]
rows = [s6421, s6419, s6417, s6416, s6415, s6414, s6413, s6412, s6411, s6410, s6409, s6408, s6407, s6406, s6405,
        s6404, s6403, s6402, s6401, s6400, s6399, s6398, s6397, s6396, s6395, s6394, s6393, s6392, s6391, s6390,
        s6389, s6388, s6387, s6386, s6385, s6384, s6383, s6382, s6381, s6380, s6379, s6378, s6377, s6376, s6375,
        s6374, s6373,
        e6400, e6399, e6398, e6397, e6396, e6395, e6394, e6393]

samples = np.concatenate(rows)
counts = np.concatenate([[lvl] * len(r) for lvl, r in zip(levels, rows)])

fig, ax = plt.subplots(figsize=(10, 10))
ax.plot(samples, counts, 'k.', label='Samples\n$\\mu$ = 6396.1, $\\sigma$ = 6.0')
ax.set_title('Run 664, channel044, Pedestal')
ax.set_xlabel('Sample #')
ax.set_ylabel('ADC Counts')
ax.grid(True)
ax.legend(loc='upper right')
fig.subplots_adjust(left=0.081, right=0.985, top=0.965, bottom=0.058)
fig.savefig('out.png', dpi=100)
plt.close(fig)
